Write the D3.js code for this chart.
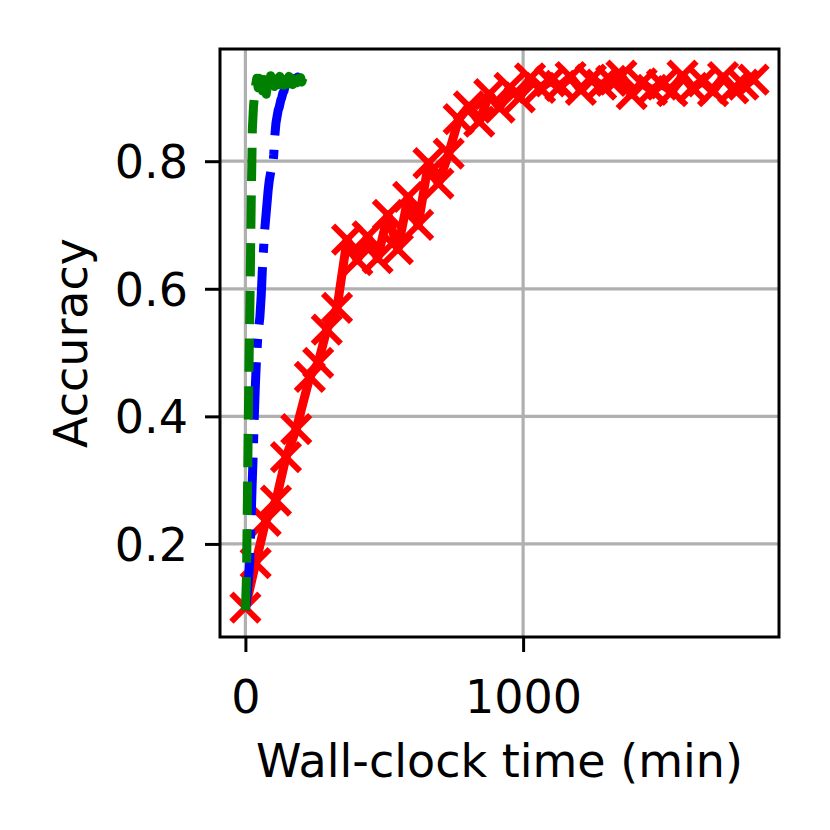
<!DOCTYPE html>
<html>
<head>
<meta charset="utf-8">
<script src="https://cdn.jsdelivr.net/npm/d3@7"></script>
<style>
  body { margin: 0; background: #fff; }
  text { font-family: "DejaVu Sans", sans-serif; }
</style>
</head>
<body>
<script>
// red: slow run (line + x markers)
const redTime = [0, 37, 73, 110, 146, 183, 232, 262, 293, 330, 366, 403, 440, 476, 513, 549,
  586, 622, 659, 695, 732, 768, 805, 842, 878, 915, 951, 988, 1025, 1061, 1098, 1134, 1171,
  1208, 1244, 1281, 1317, 1354, 1391, 1427, 1464, 1500, 1537, 1574, 1610, 1647, 1684, 1720,
  1757, 1793, 1830];
const redAcc = [0.100, 0.170, 0.236, 0.268, 0.336, 0.380, 0.462, 0.484, 0.536, 0.570, 0.677,
  0.645, 0.682, 0.648, 0.716, 0.662, 0.744, 0.700, 0.797, 0.765, 0.812, 0.866, 0.886, 0.862,
  0.905, 0.884, 0.915, 0.900, 0.930, 0.915, 0.925, 0.918, 0.932, 0.912, 0.928, 0.920, 0.926,
  0.934, 0.905, 0.922, 0.912, 0.920, 0.910, 0.934, 0.915, 0.925, 0.910, 0.932, 0.914, 0.920,
  0.928];

// blue: dash-dot
const blueTime = [0, 4, 8, 12, 16, 20, 24, 28, 32, 36, 40, 44, 48, 52, 57, 61, 65, 69, 73, 77,
  82, 86, 90, 94, 98, 102, 106, 110, 114, 118, 122, 127, 131, 135, 139, 143, 147, 151, 155,
  159, 163, 167, 171, 176, 180, 184, 188, 192, 196, 200, 204];
const blueAcc = [0.096, 0.11, 0.13, 0.15, 0.174, 0.23, 0.29, 0.34, 0.40, 0.45, 0.49, 0.52,
  0.54, 0.555, 0.59, 0.63, 0.66, 0.69, 0.71, 0.73, 0.755, 0.77, 0.78, 0.79, 0.79, 0.81, 0.84,
  0.86, 0.87, 0.88, 0.885, 0.895, 0.90, 0.907, 0.91, 0.918, 0.922, 0.915, 0.925, 0.92, 0.93,
  0.922, 0.928, 0.92, 0.93, 0.924, 0.932, 0.926, 0.93, 0.925, 0.93];

// green: dashed
const greenTime = [0, 4, 8, 12, 17, 21, 25, 29, 33, 37, 41, 46, 50, 54, 58, 62, 66, 70, 75,
  79, 83, 87, 91, 95, 99, 104, 108, 112, 116, 120, 124, 128, 133, 137, 141, 145, 149, 153,
  157, 162, 166, 170, 174, 178, 182, 186, 191, 195, 199, 203, 207];
const greenAcc = [0.096, 0.15, 0.30, 0.45, 0.60, 0.74, 0.85, 0.885, 0.905, 0.92, 0.93, 0.915,
  0.93, 0.925, 0.932, 0.91, 0.928, 0.92, 0.905, 0.918, 0.93, 0.922, 0.934, 0.92, 0.928, 0.917,
  0.932, 0.924, 0.93, 0.92, 0.933, 0.925, 0.929, 0.919, 0.932, 0.926, 0.93, 0.921, 0.933,
  0.924, 0.93, 0.92, 0.931, 0.926, 0.932, 0.923, 0.93, 0.927, 0.931, 0.924, 0.93];

const xTicks = [0, 1000];
const yTicks = [0.2, 0.4, 0.6, 0.8];

const width = 830, height = 830;
const m = { left: 220, right: 779, top: 49, bottom: 637 };
const lw = 9;

const svg = d3.select('body').append('svg')
  .attr('width', width)
  .attr('height', height);

// matplotlib style 5% margins
const allT = redTime.concat(blueTime, greenTime);
const allA = redAcc.concat(blueAcc, greenAcc);
const tx = d3.extent(allT), ay = d3.extent(allA);
const padX = (tx[1] - tx[0]) * 0.05, padY = (ay[1] - ay[0]) * 0.05;

const x = d3.scaleLinear().domain([tx[0] - padX, tx[1] + padX]).range([m.left, m.right]);
const y = d3.scaleLinear().domain([ay[0] - padY, ay[1] + padY]).range([m.bottom, m.top]);

svg.append('clipPath').attr('id', 'clip')
  .append('rect')
  .attr('x', m.left).attr('y', m.top)
  .attr('width', m.right - m.left).attr('height', m.bottom - m.top);

// grid
const grid = svg.append('g');
grid.selectAll('.gx').data(xTicks).enter().append('line')
  .attr('x1', d => x(d)).attr('x2', d => x(d))
  .attr('y1', m.top).attr('y2', m.bottom)
  .attr('stroke', '#b0b0b0').attr('stroke-width', 3.2);
grid.selectAll('.gy').data(yTicks).enter().append('line')
  .attr('x1', m.left).attr('x2', m.right)
  .attr('y1', d => y(d)).attr('y2', d => y(d))
  .attr('stroke', '#b0b0b0').attr('stroke-width', 3.2);

const plot = svg.append('g').attr('clip-path', 'url(#clip)');

const line = d3.line()
  .x(d => x(d[0]))
  .y(d => y(d[1]));

const red = d3.zip(redTime, redAcc);
const blue = d3.zip(blueTime, blueAcc);
const green = d3.zip(greenTime, greenAcc);

plot.append('path')
  .datum(red)
  .attr('d', line)
  .attr('fill', 'none')
  .attr('stroke', '#ff0000')
  .attr('stroke-width', lw)
  .attr('stroke-linejoin', 'round');

const ms = 14;
plot.selectAll('.mk').data(red).enter().append('path')
  .attr('d', d => {
    const cx = x(d[0]), cy = y(d[1]);
    return `M${cx - ms},${cy - ms}L${cx + ms},${cy + ms}M${cx - ms},${cy + ms}L${cx + ms},${cy - ms}`;
  })
  .attr('stroke', '#ff0000')
  .attr('stroke-width', 6)
  .attr('fill', 'none');

plot.append('path')
  .datum(blue)
  .attr('d', line)
  .attr('fill', 'none')
  .attr('stroke', '#0000ff')
  .attr('stroke-width', lw)
  .attr('stroke-linejoin', 'round')
  .attr('stroke-dasharray', [6.4 * lw, 1.6 * lw, 1 * lw, 1.6 * lw].join(','));

plot.append('path')
  .datum(green)
  .attr('d', line)
  .attr('fill', 'none')
  .attr('stroke', '#008000')
  .attr('stroke-width', lw)
  .attr('stroke-linejoin', 'round')
  .attr('stroke-dasharray', [3.7 * lw, 1.6 * lw].join(','));

// axes
const xAxis = svg.append('g')
  .attr('transform', `translate(0,${m.bottom})`)
  .call(d3.axisBottom(x).tickValues(xTicks).tickSize(15).tickSizeOuter(0).tickFormat(d3.format('d')));
const yAxis = svg.append('g')
  .attr('transform', `translate(${m.left},0)`)
  .call(d3.axisLeft(y).tickValues(yTicks).tickSize(15).tickSizeOuter(0).tickFormat(d3.format('.1f')));

[xAxis, yAxis].forEach(a => {
  a.select('.domain').remove();
  a.selectAll('.tick line').attr('stroke', '#000').attr('stroke-width', 3);
  a.selectAll('.tick text').attr('fill', '#000')
    .style('font-size', '46px').style('font-family', '"DejaVu Sans", sans-serif');
});
xAxis.selectAll('.tick text').attr('y', 76).attr('dy', 0);
yAxis.selectAll('.tick text').attr('x', -32).attr('dy', '0.36em');

// frame
svg.append('rect')
  .attr('x', m.left).attr('y', m.top)
  .attr('width', m.right - m.left).attr('height', m.bottom - m.top)
  .attr('fill', 'none').attr('stroke', '#000').attr('stroke-width', 3);

svg.append('text')
  .attr('x', (m.left + m.right) / 2).attr('y', 777)
  .attr('text-anchor', 'middle')
  .style('font-size', '46px')
  .text('Wall-clock time (min)');

svg.append('text')
  .attr('transform', `translate(87,${(m.top + m.bottom) / 2}) rotate(-90)`)
  .attr('text-anchor', 'middle')
  .style('font-size', '46px')
  .text('Accuracy');
</script>
</body>
</html>
